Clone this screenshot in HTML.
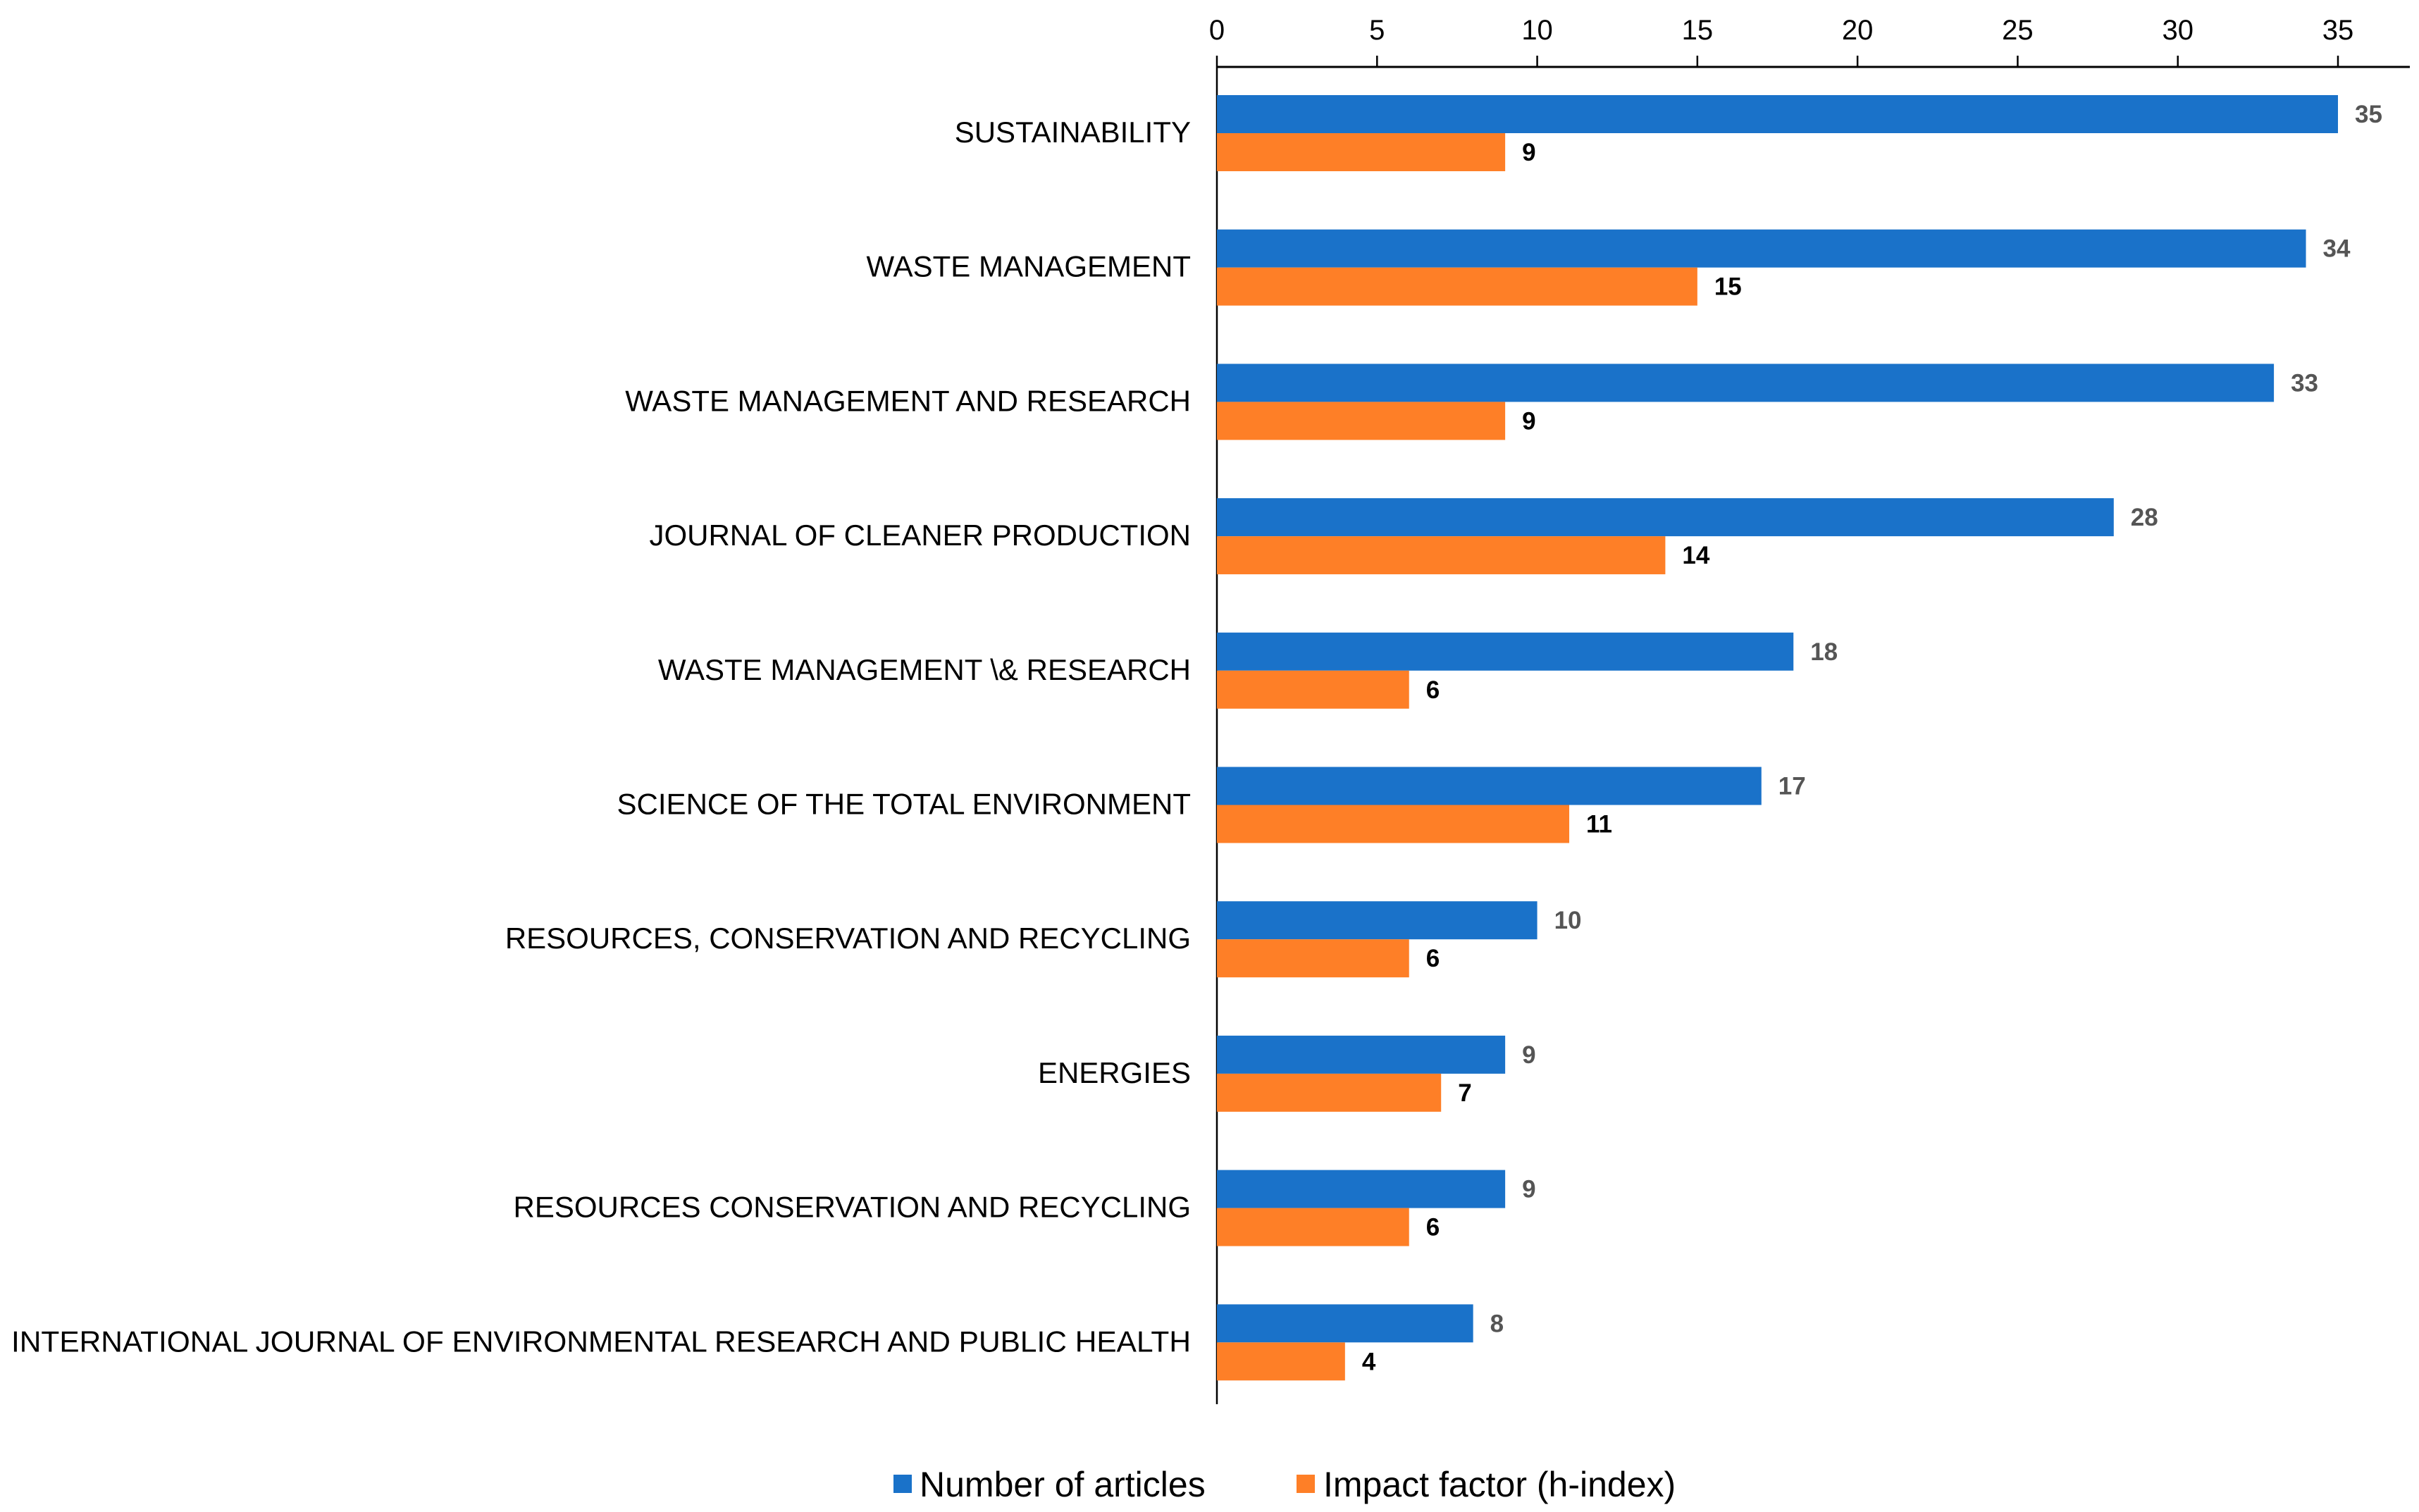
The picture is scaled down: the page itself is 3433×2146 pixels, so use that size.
<!DOCTYPE html>
<html><head><meta charset="utf-8"><style>
html,body{margin:0;padding:0;background:#fff}
svg{display:block;font-family:"Liberation Sans",Arial,sans-serif}
</style></head><body>
<svg id="chart" width="3433" height="2146" viewBox="0 0 3433 2146">
<g id="axis"></g>
<g id="bars"></g>
<g id="cats"></g>
<g>
  <rect x="1268" y="2093" width="26" height="26" fill="#1a72c9"/>
  <text x="1305" y="2124" font-size="50" fill="#000">Number of articles</text>
  <rect x="1840" y="2093" width="26" height="26" fill="#fe7f27"/>
  <text x="1878" y="2124" font-size="50" fill="#000">Impact factor (h-index)</text>
</g>
</svg>
<script>
const categories = ["SUSTAINABILITY","WASTE MANAGEMENT","WASTE MANAGEMENT AND RESEARCH","JOURNAL OF CLEANER PRODUCTION","WASTE MANAGEMENT \\& RESEARCH","SCIENCE OF THE TOTAL ENVIRONMENT","RESOURCES, CONSERVATION AND RECYCLING","ENERGIES","RESOURCES CONSERVATION AND RECYCLING","INTERNATIONAL JOURNAL OF ENVIRONMENTAL RESEARCH AND PUBLIC HEALTH"];
const articles = [35,34,33,28,18,17,10,9,9,8];
const impact = [9,15,9,14,6,11,6,7,6,4];
const ticks = [0,5,10,15,20,25,30,35];

const NS="http://www.w3.org/2000/svg";
const x0=1727, unit=(3318-1727)/35;
const xs=v=>x0+v*unit;
const y0=189, step=190.7, bh=54;
const yc=i=>y0+i*step;
function mk(tag,parent,attrs){const e=document.createElementNS(NS,tag);for(const k in attrs)e.setAttribute(k,attrs[k]);parent.appendChild(e);return e;}
const axis=document.getElementById('axis'),bars=document.getElementById('bars'),cats=document.getElementById('cats');
let l=mk('line',axis,{x1:x0,y1:95,x2:3420,y2:95,stroke:'#000','stroke-width':3});


l=mk('line',axis,{x1:x0,y1:95,x2:x0,y2:1993,stroke:'#000','stroke-width':2.5});


ticks.forEach(t=>{
  const tk=mk('line',axis,{x1:xs(t),y1:79,x2:xs(t),y2:95,stroke:'#000','stroke-width':2.5});
  
  
  const tx=mk('text',axis,{x:xs(t),y:56,'font-size':40,'text-anchor':'middle',fill:'#000'});
  tx.textContent=t;
  
  
});
categories.forEach((c,i)=>{
  const y=yc(i);
  const t=mk('text',cats,{x:1690,y:y+13,'font-size':42,'text-anchor':'end',fill:'#000'});
  t.textContent=c;
  if(i===categories.length-1){t.setAttribute('textLength',1674);t.setAttribute('lengthAdjust','spacingAndGlyphs');}
  
  
  const b1=mk('rect',bars,{x:x0,y:y-bh,width:xs(articles[i])-x0,height:bh,fill:'#1a72c9'});
  
  
  const b2=mk('rect',bars,{x:x0,y:y,width:xs(impact[i])-x0,height:bh,fill:'#fe7f27'});
  
  
  const v1=mk('text',bars,{x:xs(articles[i])+24,y:y-15,'font-size':35,'font-weight':'bold',fill:'#555'});
  v1.textContent=articles[i];
  
  
  const v2=mk('text',bars,{x:xs(impact[i])+24,y:y+39,'font-size':35,'font-weight':'bold',fill:'#000'});
  v2.textContent=impact[i];
  
  
});
</script>
</body></html>
